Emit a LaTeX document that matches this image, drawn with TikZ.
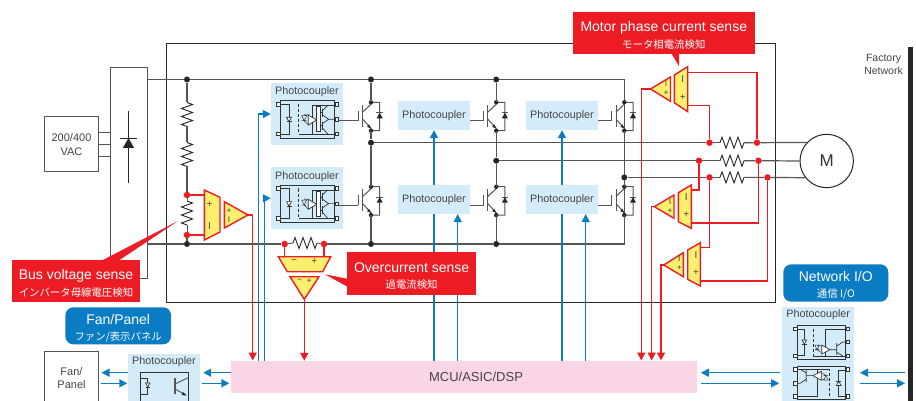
\documentclass[tikz,border=0pt]{standalone}
\usepackage{fontspec}
\setmainfont{Liberation Sans}
\newfontfamily\cjk{Noto Sans CJK JP}
\usetikzlibrary{arrows.meta,calc}
\definecolor{rd}{HTML}{ED1C24}
\definecolor{yl}{HTML}{FDF06E}
\definecolor{bl}{HTML}{0A7CC4}
\definecolor{lb}{HTML}{D4EBF9}
\definecolor{pk}{HTML}{F9D5E5}
\definecolor{ink}{HTML}{454545}
\definecolor{rl}{HTML}{555555}
\newcommand{\fs}[1]{\fontsize{#1}{#1}\selectfont}
\newcommand{\twolines}[2]{\fontsize{14}{17.5}\selectfont\rule{0pt}{15.1pt}#1\\[4.5pt]\fontsize{10.4}{12}\selectfont\cjk #2}
\tikzset{
  rail/.style={draw=rl,line width=1.2pt},
  redw/.style={draw=rd,line width=1.5pt},
  redarr/.style={redw,-{Triangle[length=8pt,width=8pt]}},
  bluw/.style={draw=bl,line width=1.5pt,-{Triangle[length=8pt,width=8pt]}},
  bluseg/.style={draw=bl,line width=1.5pt},
  amp/.style={draw=rd,fill=yl,line width=1.4pt,line join=miter},
  bdot/.style={circle,fill=black!85,inner sep=0pt,minimum size=6pt},
  rdot/.style={circle,fill=rd,inner sep=0pt,minimum size=6.5pt},
  whitebox/.style={draw=rl,line width=1pt,fill=white,inner sep=0pt,align=center,text=ink,font=\fs{11}\linespread{1.2}\selectfont},
  pcbox/.style={fill=lb,inner sep=0pt},
  pclabel/.style={text=ink,inner sep=0pt,font=\fs{10.8}},
  callout/.style={fill=rd,text=white,inner sep=0pt,align=center},
  badge/.style={fill=bl,text=white,inner sep=0pt,align=center,rounded corners=8pt},
  signmark/.style={text=ink,inner sep=0pt,font=\fs{10}},
  trisign/.style={text=ink,inner sep=0pt,font=\fs{8.5}},
  pin/.style={draw=black!80,line width=0.6pt,fill=white},
  ic/.style={draw=black!80,line width=0.7pt},
  res/.pic={
    \draw[draw=black!85,line width=0.9pt,line join=miter] (0,0)--(2,-5.5)--(6,5.5)--(10,-5.5)--(14,5.5)--(18,-5.5)--(22,5.5)--(24,0);
    \coordinate (-a) at (0,0);
    \coordinate (-b) at (24,0);
  },
  igbt/.pic={
    \draw[rail,line width=1pt] (-12.7,18.4)--(-12.7,8.4);
    \draw[rail,line width=1pt] (-8.3,2.7)--(-8.3,24.4);
    \draw[rail,line width=1pt] (-8.3,9.7)--(0,2)--(0,0)--(8.7,0)--(8.7,28.4)--(0,28.4)--(0,26)--(-8.3,17);
    \fill[black!85] (0,26)--(-4,24.6)--(-2,22)--cycle;
    \draw[rail,line width=1pt] (5.3,10.4)--(12,10.4);
    \fill[black!85] (5.7,16)--(11.7,16)--(8.7,10.4)--cycle;
    \fill[black!85] (0,0) circle (2.2) (0,28.4) circle (2.2);
    \coordinate (-c) at (0,0);
    \coordinate (-e) at (0,28.4);
    \coordinate (-g) at (-12.7,18.4);
  },
  optoW/.pic={
    \draw[ic] (0,0) rectangle (54,37.6);
    \draw[ic] (0,3.6) -| (8.3,33.3) -- (0,33.3);
    \draw[ic,fill=white] (5.8,16.6)--(10.8,16.6)--(8.3,21)--cycle;
    \draw[ic] (5.8,21)--(10.8,21);
    \draw[ic,densely dashed,line width=0.6pt] (18,3.5)--(18,32);
    \draw[ic] (18,33.3)--(54,33.3);
    \draw[ic] (54,4.9)--(31.6,4.9)--(31.6,33.3);
    \draw[ic,fill=white] (27.6,14.3)--(27.6,24.3)--(36,19.3)--cycle;
    \draw[ic,line width=0.5pt] (21,15)--(26,15)--(23.5,20)--cycle (21,20)--(26,20) (23.5,14)--(27.6,14.3) (23.5,20)--(27.6,24);
    \draw[ic,fill=white] (36,6) rectangle (39.3,31);
    \draw[ic] (41.5,8)--(41.5,16) (41.5,21)--(41.5,29);
    \draw[ic] (39.3,12)--(41.5,12) (39.3,25)--(41.5,25);
    \draw[ic] (41.5,10)--(47,4.9) (41.5,14)--(48,18.6)--(54,18.6) (48,18.6)--(41.5,23) (41.5,27)--(47,33.3);
    \foreach \a/\b in {-2.5/3.6,-2.5/33.3,56/3.6,56/18.6,56/33.3}
      \draw[pin] (\a-1.8,\b-1.8) rectangle (\a+1.8,\b+1.8);
    \coordinate (-out) at (57.8,18.6);
  },
  optoN/.pic={
    \draw[ic] (0,0) rectangle (48.4,33.6);
    \draw[ic] (0,3.3) -| (7,29.6) -- (0,29.6);
    \draw[ic,fill=white] (4.7,14.2)--(9.3,14.2)--(7,18.4)--cycle;
    \draw[ic] (4.7,18.4)--(9.3,18.4);
    \draw[ic,densely dashed,line width=0.6pt] (16,3.3)--(16,30);
    \draw[ic] (16,30.3)--(48.4,30.3);
    \draw[ic] (48.4,3.3)--(28.4,3.3)--(28.4,30.3);
    \draw[ic,fill=white] (24.4,19.3)--(24.4,28.3)--(32.7,24)--cycle;
    \draw[ic,line width=0.5pt] (17.5,19.5)--(22,19.5)--(19.7,24)--cycle (17.5,24)--(22,24) (19.7,19.5)--(24.4,20.5) (19.7,24)--(24.4,27);
    \draw[ic] (32.7,24)--(39.4,24) (39.4,17.5)--(39.4,29.5) (39.4,20.5)--(45.5,16.3)--(48.4,16.3) (39.4,26.5)--(45.5,30.3);
    \foreach \a/\b in {-2/3.3,-2/30.3,50.4/3.3,50.4/16.3,50.4/30.3}
      \draw[pin] (\a-1.7,\b-1.7) rectangle (\a+1.7,\b+1.7);
  },
}
\begin{document}
\begin{tikzpicture}[x=1pt,y=-1pt]
\clip (0,0) rectangle (916,401);
\fill[white] (0,0) rectangle (916,401);
% ---- frames
\node[draw=black!85,line width=1pt,minimum width=608.5pt,minimum height=258pt,inner sep=0pt] (frame) at (470.75,173) {};
\node[whitebox,minimum width=37.5pt,minimum height=210pt] (rectif) at (128.75,173) {};
\node[whitebox,minimum width=54pt,minimum height=55pt] (ac) at (71.5,144.5) {200/400\\VAC};
\coordinate (ac1) at (0,132); \coordinate (ac2) at (0,144.7); \coordinate (ac3) at (0,156.7);
\draw[rail,line width=0.9pt] (ac.east |- ac1) -- (rectif.west |- ac1);
\draw[rail,line width=0.9pt] (ac.east |- ac2) -- (rectif.west |- ac2);
\draw[rail,line width=0.9pt] (ac.east |- ac3) -- (rectif.west |- ac3);
% rectifier diode
\draw[black!85,line width=0.9pt] (128.5,111)--(128.5,183) (120,138)--(137,138);
\fill[black!85] (122.8,148)--(134.2,148)--(128.5,138)--cycle;
% ---- rails
\node[bdot] (t1) at (187,79.5) {};
\node[bdot] (t2) at (371,79.5) {};
\node[bdot] (t3) at (496.2,79.5) {};
\coordinate (tr) at (624.3,79.5);
\coordinate (br) at (624.3,244);
\node[bdot] (b1) at (187,244) {};
\node[bdot] (b2) at (371,244) {};
\node[bdot] (b3) at (496.2,244) {};
\node[rdot] (ocL) at (284.7,244) {};
\node[rdot] (ocR) at (324,244) {};
\draw[rail] (rectif.east |- t1) -- (t1) -- (t2) -- (t3) -- (tr) -- (br) -- (b3) -- (b2) -- (ocR);
\draw[rail] (ocL) -- (b1) -- (rectif.east |- b1);
\pic (rs) at (293,243) {res};
\draw[rail,line width=0.9pt] (ocL) -- (rs-a);
\draw[rail,line width=0.9pt] (rs-b) -- (ocR);
% divider
\node[rdot] (d1) at (187,195) {};
\node[rdot] (d2) at (187,235) {};
\pic[rotate=-90] (r1) at (187,102.5) {res};
\pic[rotate=-90] (r2) at (187,142.5) {res};
\pic[rotate=-90] (r3) at (187,201) {res};
\draw[rail] (t1) -- (r1-a);
\draw[rail] (r1-b) -- (r2-a);
\draw[rail] (r2-b) -- (d1);
\draw[rail,line width=0.9pt] (d1) -- (r3-a);
\draw[rail,line width=0.9pt] (r3-b) -- (d2);
\draw[rail] (d2) -- (b1);
% ---- bridge
\pic (u1) at (371,102.3) {igbt};
\pic (u2) at (496.2,102.3) {igbt};
\pic (u3) at (624.3,102.3) {igbt};
\pic (l1) at (371,186.7) {igbt};
\pic (l2) at (496.2,186.7) {igbt};
\pic (l3) at (624.3,186.7) {igbt};
\node[bdot] (j1) at (371,142.7) {};
\node[bdot] (j2) at (496.2,160.7) {};
\node[bdot] (j3) at (624.3,177.4) {};
\draw[rail] (t2) -- (u1-c);
\draw[rail] (t3) -- (u2-c);
\draw[rail] (u1-e) -- (j1) -- (l1-c);
\draw[rail] (u2-e) -- (j2) -- (l2-c);
\draw[rail] (u3-e) -- (j3) -- (l3-c);
\draw[rail] (l1-e) -- (b2);
\draw[rail] (l2-e) -- (b3);
\draw[rail] (l3-e) -- (br);
% ---- motor and phases
\node[draw=black!85,line width=1pt,circle,minimum size=53.4pt,inner sep=0pt,font=\fs{17},text=black!80] (mot) at (826.7,161) {M};
\node[rdot] (pa) at (709.5,142.7) {};
\node[rdot] (pb) at (757,142.7) {};
\node[rdot] (qa) at (699,160.7) {};
\node[rdot] (qb) at (758.5,160.7) {};
\node[rdot] (sa) at (709.5,177.4) {};
\node[rdot] (sb) at (767.5,177.4) {};
\pic (ra) at (720,142.7) {res};
\pic (rb) at (720,160.7) {res};
\pic (rc) at (720,177.4) {res};
\draw[rail] (j1) -- (pa) -- (ra-a);
\draw[rail] (ra-b) -- (pb) -- (mot.137);
\draw[rail] (j2) -- (qa) -- (rb-a);
\draw[rail] (rb-b) -- (qb) -- (mot.west);
\draw[rail] (j3) -- (sa) -- (rc-a);
\draw[rail] (rc-b) -- (sb) -- (mot.218);
% ---- MCU
\node[fill=pk,inner sep=0pt,minimum width=466pt,minimum height=32pt] (mcu) at (464,377) {};
\node[inner sep=0pt,font=\fs{13},text=ink] (mcut) at (476,377) {MCU/ASIC/DSP};
% ---- photocouplers
\node[pcbox,minimum width=72pt,minimum height=62pt] (pcA) at (307,114) {};
\node[pclabel] (pcAt) at (307,92) {Photocoupler};
\node[pcbox,minimum width=72pt,minimum height=62pt] (pcB) at (307,198.3) {};
\node[pclabel] (pcBt) at (307,176.3) {Photocoupler};
\pic (oa) at (280.7,100.7) {optoW};
\pic (ob) at (280.7,185) {optoW};
\foreach \n/\x/\y in {pcC/434/115.5,pcD/434/199.5,pcE/562/115.5,pcF/562/199.5}
  \node[pcbox,text=ink,font=\fs{10.8},minimum width=72pt,minimum height=29pt] (\n) at (\x,\y) {Photocoupler};
\draw[rail,line width=1pt] (oa-out |- u1-g) -- (u1-g);
\draw[rail,line width=1pt] (ob-out |- l1-g) -- (l1-g);
\draw[rail,line width=1pt] (pcC.east |- u2-g) -- (u2-g);
\draw[rail,line width=1pt] (pcD.east |- l2-g) -- (l2-g);
\draw[rail,line width=1pt] (pcE.east |- u3-g) -- (u3-g);
\draw[rail,line width=1pt] (pcF.east |- l3-g) -- (l3-g);
\coordinate (vA) at (258.3,361);
\coordinate (vB) at (264.7,361);
\draw[bluw] (vA) |- (pcA.west);
\draw[bluw] (vB) |- (pcB.west);
\draw[bluseg] (mcu.north -| pcD.south) -- (pcD.south);
\draw[bluw] (pcD.north) -- (pcC.south);
\draw[bluseg] (mcu.north -| pcF.south) -- (pcF.south);
\draw[bluw] (pcF.north) -- (pcE.south);
\coordinate (tD) at (457.7,214);
\coordinate (tF) at (585.7,214);
\draw[bluw] (mcu.north -| tD) -- (tD);
\draw[bluw] (mcu.north -| tF) -- (tF);
% ---- bus voltage sense amps
\draw[amp] (204.3,190)--(220,197.3)--(220,232)--(204.3,240)--cycle;
\draw[amp] (224.4,201.7)--(224.4,228)--(248,215)--cycle;
\draw[redw] (d1) -- (204.3,195);
\draw[redw] (d2) -- (204.3,235);
\node[signmark] (s1) at (209.5,205) {+};
\node[signmark] (s2) at (209.5,226) {I};
\node[trisign] (s3) at (229,210.7) {+};
\node[trisign] (s4) at (229,220) {I};
\coordinate (busOut) at (248,215);
\coordinate (busTip) at (252.7,360.5);
\draw[redarr] (busOut) -| (busTip);
% ---- overcurrent amps
\draw[amp] (278.3,256.7)--(330.7,256.7)--(322.7,271.7)--(287.3,271.7)--cycle;
\draw[amp] (290,276.7)--(319,276.7)--(304.3,299.3)--cycle;
\coordinate (ocI) at (284.7,256.7);
\coordinate (ocJ) at (324,256.7);
\draw[redw] (ocL) -- (ocI);
\draw[redw] (ocR) -- (ocJ);
\node[signmark] (s5) at (294,261.7) {−};
\node[signmark] (s6) at (314.3,261.7) {+};
\node[trisign] (s7) at (299.5,281) {−};
\node[trisign] (s8) at (309,281) {+};
\coordinate (ocOut) at (304.3,299.3);
\draw[redarr] (ocOut) -- (ocOut |- mcu.north);
% ---- motor current amps
\draw[amp] (674.3,75)--(687.7,66.7)--(687.7,111.7)--(674.3,102.7)--cycle;
\draw[amp] (650.5,89)--(670.5,77)--(670.5,101.3)--cycle;
\draw[amp] (678.3,192.7)--(691.3,185)--(691.3,228.3)--(678.3,221.7)--cycle;
\draw[amp] (654.3,206.7)--(674,195)--(674,218.3)--cycle;
\draw[amp] (687.7,250)--(700.3,242.7)--(700.3,286)--(687.7,279.3)--cycle;
\draw[amp] (663.7,265)--(683.3,252.7)--(683.3,276.7)--cycle;
\coordinate (w1) at (687.7,72.3);
\coordinate (w2) at (687.7,105.7);
\coordinate (w3) at (691.3,190);
\coordinate (w4) at (691.3,223);
\coordinate (w5) at (700.3,247.7);
\coordinate (w6) at (700.3,281);
\draw[redw] (w1) -| (pb);
\draw[redw] (w2) -| (pa);
\draw[redw] (w3) -| (qa);
\draw[redw] (w4) -| (qb);
\draw[redw] (w5) -| (sa);
\draw[redw] (w6) -| (sb);
\coordinate (o1) at (650.5,89);
\coordinate (o2) at (654.3,206.7);
\coordinate (o3) at (663.7,265);
\coordinate (x1) at (641.3,360.5);
\coordinate (x2) at (651.7,360.5);
\coordinate (x3) at (661,360.5);
\draw[redarr] (o1) -| (x1);
\draw[redarr] (o2) -| (x2);
\draw[redarr] (o3) -| (x3);
\node[signmark] (m1) at (682.7,79) {I};
\node[signmark] (m2) at (682.7,97.7) {+};
\node[trisign] (m3) at (666,83.5) {I};
\node[trisign] (m4) at (666,93.2) {+};
\node[signmark] (m5) at (686.3,197.3) {I};
\node[signmark] (m6) at (686.3,214.3) {+};
\node[trisign] (m7) at (670,201.8) {I};
\node[trisign] (m8) at (670,211) {+};
\node[signmark] (m9) at (696,255.3) {I};
\node[signmark] (m10) at (696,272.7) {+};
\node[trisign] (m11) at (679.3,258.8) {I};
\node[trisign] (m12) at (679.3,268) {+};
% ---- callouts
\fill[rd] (101,261)--(178,221)--(118,261)--cycle;
\node[callout,minimum width=128pt,minimum height=42pt] (cbus) at (76,281) {\twolines{Bus voltage sense}{インバータ母線電圧検知}};
\fill[rd] (348,279)--(325,274.3)--(348,287)--cycle;
\node[callout,minimum width=128.7pt,minimum height=42.7pt] (cover) at (411.6,273.6) {\twolines{Overcurrent sense}{過電流検知}};
\fill[rd] (671.7,54)--(679,66)--(679,54)--cycle;
\node[callout,minimum width=181.7pt,minimum height=42.6pt] (cmotor) at (663.8,33) {\twolines{Motor phase current sense}{モータ相電流検知}};
% ---- badges
\node[badge,minimum width=105.7pt,minimum height=37pt] (bfan) at (118.2,325.8) {\twolines{Fan/Panel}{ファン/表示パネル}};
\node[badge,minimum width=105pt,minimum height=37.4pt] (bnet) at (835.8,283) {\twolines{Network I/O}{通信 I/O}};
% ---- fan side
\node[whitebox,minimum width=54pt,minimum height=54pt] (fan) at (71.5,378) {Fan/\\Panel};
\node[pcbox,minimum width=72pt,minimum height=60pt] (pcG) at (164,384) {};
\node[pclabel] (pcGt) at (164,362) {Photocoupler};
\draw[ic,line width=0.9pt] (140.5,405)--(140.5,372.7)--(188.5,372.7)--(188.5,405);
\draw[ic] (140.5,378)--(147.7,378)--(147.7,394)--(140.5,394);
\draw[ic,fill=white] (145.5,383)--(150,383)--(147.7,387)--cycle;
\draw[ic] (145.5,387)--(150,387);
\draw[rail,line width=1.1pt] (175,378)--(175,394);
\draw[rail,line width=0.9pt] (175,384)--(188.5,377.5) (175,389)--(186,395);
\fill[black!85] (186.5,395.5)--(181.5,395)--(183,392)--cycle;
\coordinate (ya) at (0,372.7);
\coordinate (yb) at (0,383.3);
\draw[bluw] (pcG.west |- ya) -- ([xshift=2.5pt]fan.east |- ya);
\draw[bluw] ([xshift=2pt]fan.east |- yb) -- ([xshift=-.5pt]pcG.west |- yb);
\draw[bluw] (mcu.west |- ya) -- ([xshift=3pt]pcG.east |- ya);
\draw[bluw] ([xshift=2pt]pcG.east |- yb) -- ([xshift=-1.5pt]mcu.west |- yb);
% ---- network side
\node[pcbox,minimum width=71.7pt,minimum height=100pt] (pcH) at (818.2,357.3) {};
\node[pclabel] (pcHt) at (818.2,315) {Photocoupler};
\pic (oc) at (797.3,325.7) {optoN};
\pic[rotate=180] (od) at (845.7,399.6) {optoN};
\coordinate (bar) at (910.5,46.7);
\draw[draw=black!85,line width=4.4pt] (bar) -- (bar |- 0,401);
\draw[bluw] ([xshift=-2.3pt]pcH.west |- ya) -- ([xshift=3.7pt]mcu.east |- ya);
\draw[bluw] ([xshift=3.7pt]mcu.east |- yb) -- ([xshift=-3pt]pcH.west |- yb);
\coordinate (nl) at (860,0);
\coordinate (nr) at (905,0);
\draw[bluw] (nr |- ya) -- (nl |- ya);
\draw[bluw] (nl |- yb) -- (nr |- yb);
% ---- factory network label
\node[text=ink,inner sep=0pt,align=center,font=\fs{10.5}\linespread{1.2}\selectfont] (fnet) at (883.5,64.5) {Factory\\Network};
\end{tikzpicture}
\end{document}
